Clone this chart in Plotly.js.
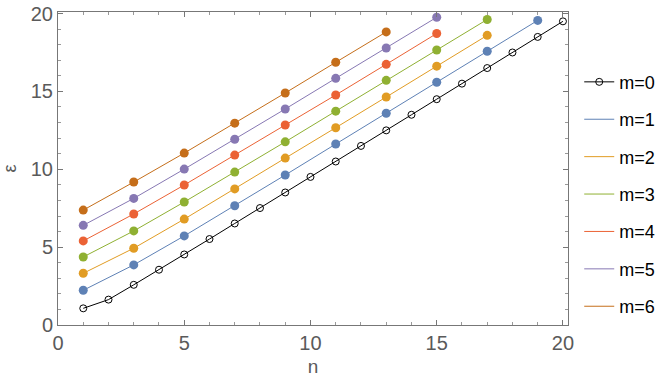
<!DOCTYPE html>
<html><head><meta charset="utf-8">
<script src="https://cdn.plot.ly/plotly-3.0.1.min.js"></script>
<style>html,body{margin:0;padding:0;background:#fff}#chart{width:669px;height:387px}</style>
</head><body><div id="chart"></div>
<script>
const n0 = [1,2,3,4,5,6,7,8,9,10,11,12,13,14,15,16,17,18,19,20];
const eps0 = [1.07,1.63,2.58,3.55,4.53,5.52,6.52,7.51,8.51,9.51,10.5,11.5,12.5,13.5,14.5,15.5,16.5,17.5,18.5,19.5];
const n1 = [1,3,5,7,9,11,13,15,17,19];
const eps1 = [2.23,3.86,5.72,7.66,9.63,11.62,13.6,15.59,17.58,19.56];
const n2 = [1,3,5,7,9,11,13,15,17];
const eps2 = [3.32,4.93,6.8,8.74,10.72,12.67,14.64,16.62,18.6];
const n3 = [1,3,5,7,9,11,13,15,17];
const eps3 = [4.37,6.04,7.9,9.82,11.76,13.73,15.71,17.66,19.62];
const n4 = [1,3,5,7,9,11,13,15];
const eps4 = [5.4,7.13,8.99,10.91,12.84,14.77,16.74,18.72];
const n5 = [1,3,5,7,9,11,13,15];
const eps5 = [6.4,8.13,10.01,11.93,13.87,15.84,17.79,19.76];
const n6 = [1,3,5,7,9,11,13];
const eps6 = [7.38,9.18,11.04,12.96,14.9,16.87,18.82];
const names = ["m=0","m=1","m=2","m=3","m=4","m=5","m=6"];
const colors = ["#000000","#5E81B5","#E19C24","#8FB032","#EB6235","#8778B3","#C56E1A"];

const series = [[n1,eps1],[n2,eps2],[n3,eps3],[n4,eps4],[n5,eps5],[n6,eps6]];
const traces = [{
  x: n0, y: eps0, name: names[0], legendgroup: 'g0', mode: 'lines+markers',
  line: {color: colors[0], width: 1},
  marker: {symbol: 'circle-open', size: 7, color: colors[0], line: {width: 1}},
  cliponaxis: false
}];
series.forEach((s, i) => {
  traces.push({x: s[0], y: s[1], name: names[i+1], legendgroup: 'g'+(i+1), mode: 'lines',
    line: {color: colors[i+1], width: 1}, cliponaxis: false});
  traces.push({x: s[0], y: s[1], name: names[i+1], legendgroup: 'g'+(i+1), mode: 'markers',
    showlegend: false, marker: {color: colors[i+1], size: 9}, cliponaxis: false});
});

const axisCommon = {
  showgrid: false, zeroline: false, showline: true, linecolor: '#777', linewidth: 1,
  mirror: 'allticks', ticks: 'inside', ticklen: 5, tickcolor: '#777', tickwidth: 1,
  tickfont: {family: 'Liberation Sans, Arial, sans-serif', size: 20, color: '#5a5a5a'},
  minor: {ticks: 'inside', ticklen: 3, tickcolor: '#999', dtick: 1}
};
const layout = {
  width: 669, height: 387,
  margin: {l: 58, r: 101, t: 12, b: 62, autoexpand: false},
  paper_bgcolor: '#fff', plot_bgcolor: '#fff',
  showlegend: true,
  legend: {x: 1.022, xanchor: 'left', y: 0.835, yanchor: 'top', traceorder: 'grouped',
    tracegroupgap: 11, font: {family: 'Liberation Sans, Arial, sans-serif', size: 18, color: '#000'},
    bgcolor: 'rgba(0,0,0,0)'},
  xaxis: Object.assign({}, axisCommon, {range: [0, 20.2], dtick: 5, tick0: 0,
    title: {text: 'n', font: {family: 'Liberation Sans, Arial, sans-serif', size: 19, color: '#5a5a5a'}, standoff: 6}}),
  yaxis: Object.assign({}, axisCommon, {range: [0, 20.1], dtick: 5, tick0: 0,
    title: {text: 'ε', font: {family: 'Liberation Sans, Arial, sans-serif', size: 18, color: '#5a5a5a'}, standoff: 12}})
};
Plotly.newPlot('chart', traces, layout, {displayModeBar: false, staticPlot: true});
</script></body></html>
